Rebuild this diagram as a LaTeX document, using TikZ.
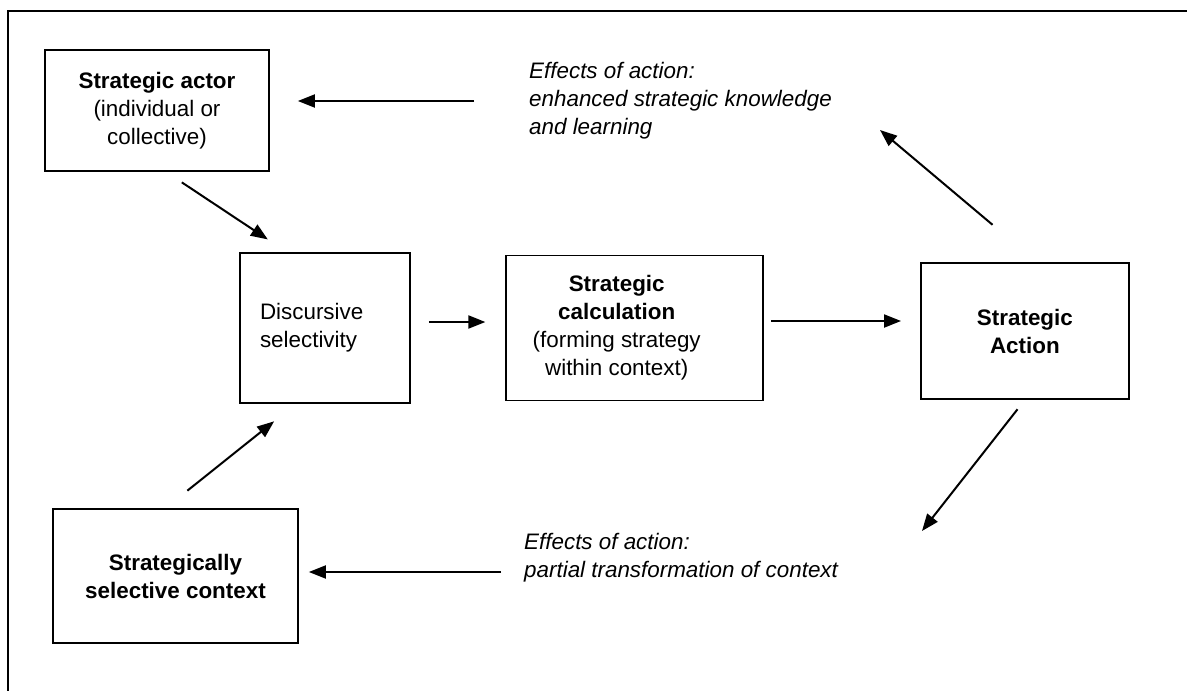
\documentclass[tikz,border=0pt]{standalone}
\usepackage{fontspec}
\setmainfont{Liberation Sans}
\usetikzlibrary{arrows.meta, positioning}
\newcommand{\boxfont}{\fontsize{22.4}{28}\selectfont}
\newcommand{\effectfont}{\fontsize{22.4}{28}\selectfont\itshape}
\tikzset{
  box/.style={rectangle, draw=black, line width=1.7pt, align=center, font=\boxfont},
  effect/.style={inner sep=0pt, align=left, font=\effectfont},
  arrow/.style={line width=2pt, -{Triangle[length=17pt, width=13pt]}},
  frame/.style={line width=2.2pt}
}

\begin{document}
\begin{tikzpicture}[x=1pt, y=-1pt]

  \useasboundingbox (0,0) rectangle (1187,691);

  % Outer frame
  \draw [frame] (8,691) -- (8,11) -- (1187,11);

  % Actor and context
  \node (actor) [box, minimum width=224pt, minimum height=121pt] at (157,110.5) {\textbf{Strategic actor}\\(individual or\\collective)};
  \node (context) [box, minimum width=245pt, minimum height=134pt] at (175.5,576) {\textbf{Strategically}\\\textbf{selective context}};

  % Main chain
  \node (disc) [box, minimum width=170pt, minimum height=150pt, text width=130pt, inner xsep=20pt, align=left] at (325,328) {Discursive\\selectivity};
  \node (calc) [box, minimum width=257pt, minimum height=145pt, right=94.5pt of disc,
    label={[font=\boxfont, align=center, xshift=-18pt]center:{\textbf{Strategic}\\\textbf{calculation}\\(forming strategy\\within context)}}] {};
  \node (action) [box, minimum width=208pt, minimum height=136pt, right=156pt of calc, yshift=-3pt] {\textbf{Strategic}\\\textbf{Action}};

  % Effects of action
  \node (effup) [effect, anchor=west] at (529,101) {Effects of action:\\enhanced strategic knowledge\\and learning};
  \node (effdown) [effect, anchor=west] at (524,558) {Effects of action:\\partial transformation of context};
  \coordinate (uptip) at (880,130);
  \coordinate (downtip) at (922,531);

  % Connections into discursive selectivity
  \draw [arrow, shorten <=19pt, shorten >=23pt] ([xshift=9pt]actor.south) -- ([xshift=-38pt]disc.north);
  \draw [arrow, shorten <=28pt, shorten >=28pt] ([xshift=-10pt]context.north) -- ([xshift=-29pt]disc.south);

  % Connections along the chain
  \draw [arrow, shorten <=18pt, shorten >=20pt] ([yshift=6pt]disc.east) -- ([yshift=6pt]disc.east -| calc.west);
  \draw [arrow, shorten <=7pt, shorten >=19pt] ([yshift=7pt]calc.east) -- ([yshift=7pt]calc.east -| action.west);

  % Connections from strategic action
  \draw [arrow, shorten <=58pt] ([xshift=12pt]action.north) -- (uptip);
  \draw [arrow, shorten <=12pt] (action.south) -- (downtip);

  % Feedback to actor and context
  \draw [arrow, shorten <=55pt, shorten >=28pt] (effup.west) -- (effup.west -| actor.east);
  \draw [arrow, shorten <=23pt, shorten >=10pt] ([yshift=-14pt]effdown.west) -- ([yshift=-14pt]effdown.west -| context.east);

\end{tikzpicture}
\end{document}
